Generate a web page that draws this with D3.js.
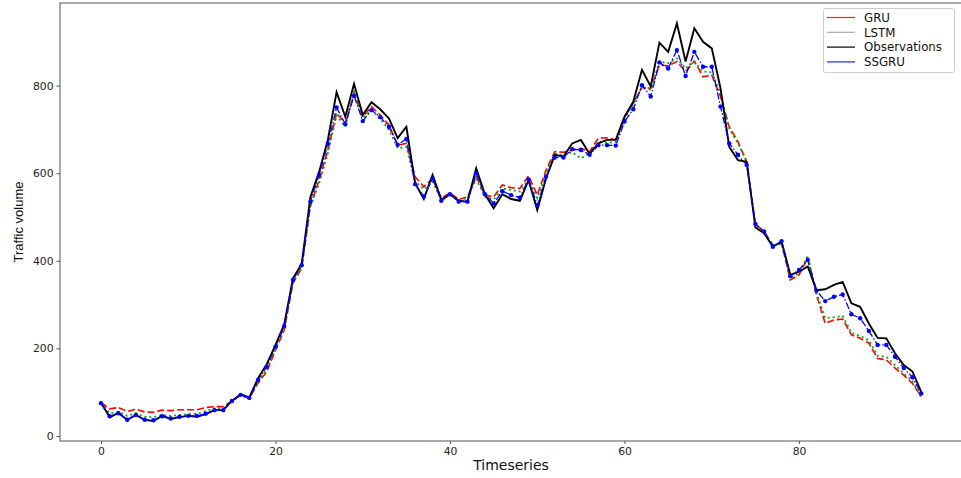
<!DOCTYPE html>
<html>
<head>
<meta charset="utf-8">
<script src="https://cdn.jsdelivr.net/npm/d3@7"></script>
<style>
  body { margin: 0; background: #fff; }
  svg { display: block; font-family: "DejaVu Sans", sans-serif; }
</style>
</head>
<body>
<svg id="chart" width="961" height="478"></svg>
<script>
const observations = [76, 43, 53, 37, 48, 37, 34, 46, 39, 43, 46, 44, 50, 59, 59, 80, 95, 88, 132, 164,
  208, 255, 360, 393, 546, 603, 676, 785, 729, 804, 733, 762, 746, 725, 680, 706, 577, 541, 596, 539,
  552, 537, 535, 611, 552, 520, 552, 541, 537, 584, 516, 588, 642, 638, 668, 676, 644, 668, 676, 676,
  729, 763, 836, 798, 898, 877, 942, 855, 931, 900, 885, 794, 660, 630, 626, 476, 463, 432, 444, 368,
  375, 387, 333, 335, 345, 352, 303, 295, 257, 224, 223, 189, 162, 147, 101];
const ssgru = [75, 45, 52, 37, 48, 37, 36, 45, 40, 44, 46, 46, 51, 59, 59, 80, 94, 87, 128, 158,
  204, 251, 356, 390, 535, 596, 667, 750, 712, 777, 719, 744, 728, 706, 665, 678, 575, 547, 588, 537,
  552, 535, 535, 600, 552, 531, 559, 550, 544, 586, 527, 592, 636, 636, 655, 653, 642, 664, 664, 663,
  718, 746, 801, 775, 853, 839, 881, 822, 877, 843, 843, 752, 668, 642, 619, 484, 467, 432, 445, 365,
  379, 402, 332, 308, 318, 323, 278, 269, 240, 208, 208, 181, 155, 134, 97];
const gru = [76, 62, 65, 56, 61, 55, 54, 59, 58, 60, 60, 60, 65, 67, 67, 80, 93, 86, 121, 147,
  196, 242, 349, 383, 527, 584, 653, 737, 714, 782, 729, 752, 733, 710, 664, 668, 592, 569, 588, 543,
  555, 540, 546, 592, 550, 546, 573, 567, 565, 594, 550, 607, 649, 648, 652, 657, 649, 680, 681, 676,
  729, 760, 796, 794, 847, 845, 855, 832, 856, 820, 824, 775, 706, 672, 625, 484, 467, 436, 440, 356,
  368, 406, 322, 257, 265, 267, 231, 223, 212, 177, 174, 155, 139, 120, 90];
const lstm = [75, 52, 55, 46, 52, 44, 43, 48, 46, 48, 50, 51, 57, 63, 63, 80, 92, 86, 124, 152,
  199, 246, 352, 385, 524, 577, 645, 733, 706, 786, 726, 744, 724, 699, 657, 660, 581, 563, 581, 540,
  550, 538, 543, 587, 546, 540, 565, 562, 558, 586, 543, 600, 645, 641, 648, 634, 645, 672, 669, 671,
  725, 757, 798, 790, 855, 851, 862, 839, 855, 832, 830, 782, 702, 668, 628, 482, 463, 436, 438, 360,
  372, 411, 327, 269, 271, 274, 236, 228, 219, 183, 181, 162, 143, 125, 88];

const yTicks = [0, 200, 400, 600, 800];
const xTicks = [0, 20, 40, 60, 80];
const legendNames = ["GRU", "LSTM", "Observations", "SSGRU"];
const legendColors = ["#ff2020", "#a8a8a8", "#000000", "#2020ff"];

const svg = d3.select("#chart");
const plotLeft = 60, plotTop = 3, plotRight = 963, plotBottom = 441;

const x = d3.scaleLinear().domain([0, 94]).range([101, 921.2]);
const y = d3.scaleLinear().domain([0, 800]).range([436, 85.6]);

svg.append("clipPath").attr("id", "plotclip")
  .append("rect").attr("x", plotLeft).attr("y", plotTop)
  .attr("width", plotRight - plotLeft).attr("height", plotBottom - plotTop);

const line = d3.line().x((d, i) => x(i)).y(d => y(d));
const plot = svg.append("g").attr("clip-path", "url(#plotclip)");

// GRU
plot.append("path").datum(gru).attr("d", line)
  .attr("fill", "none").attr("stroke", "#ff0000").attr("stroke-width", 1.6)
  .attr("stroke-dasharray", "7,3");

// LSTM
plot.append("path").datum(lstm).attr("d", line)
  .attr("fill", "none").attr("stroke", "#14a014").attr("stroke-width", 1.8)
  .attr("stroke-dasharray", "2,3");

// Observations
plot.append("path").datum(observations).attr("d", line)
  .attr("fill", "none").attr("stroke", "#000000").attr("stroke-width", 1.9);

// SSGRU
plot.append("path").datum(ssgru).attr("d", line)
  .attr("fill", "none").attr("stroke", "#0000ff").attr("stroke-width", 1.3)
  .attr("stroke-dasharray", "7,2,1.5,2");
plot.selectAll(".dot").data(ssgru).enter().append("circle")
  .attr("class", "dot")
  .attr("cx", (d, i) => x(i)).attr("cy", d => y(d)).attr("r", 2.2)
  .attr("fill", "#0000ff");

// frame
svg.append("rect").attr("x", plotLeft).attr("y", plotTop)
  .attr("width", plotRight - plotLeft).attr("height", plotBottom - plotTop)
  .attr("fill", "none").attr("stroke", "#555").attr("stroke-width", 1);

// axes
const yAxis = svg.append("g").attr("transform", "translate(" + plotLeft + ",0)")
  .call(d3.axisLeft(y).tickValues(yTicks).tickSize(3.5).tickPadding(3));
const xAxis = svg.append("g").attr("transform", "translate(0," + plotBottom + ")")
  .call(d3.axisBottom(x).tickValues(xTicks).tickSize(3).tickPadding(3));
[yAxis, xAxis].forEach(function (a) {
  a.select(".domain").remove();
  a.selectAll("line").attr("stroke", "#555");
  a.selectAll("text").attr("fill", "#222").style("font-size", "10.8px")
    .style("font-family", "DejaVu Sans, sans-serif");
});

svg.append("text").attr("x", 511).attr("y", 470).attr("text-anchor", "middle")
  .style("font-size", "14px").attr("fill", "#111").text("Timeseries");
svg.append("text").attr("transform", "translate(23,222) rotate(-90)").attr("text-anchor", "middle")
  .style("font-size", "13px").style("font-family", "Liberation Sans, Arial, sans-serif")
  .attr("fill", "#111").text("Traffic volume");

// legend
const legend = svg.append("g");
legend.append("rect").attr("x", 823.5).attr("y", 8.5).attr("width", 131).attr("height", 64)
  .attr("rx", 2).attr("fill", "#fff").attr("fill-opacity", 0.8).attr("stroke", "#ccc");
legendNames.forEach(function (name, i) {
  const ly = 17.5 + i * 14.8;
  legend.append("line").attr("x1", 827).attr("x2", 855).attr("y1", ly).attr("y2", ly)
    .attr("stroke", legendColors[i]).attr("stroke-width", 1.2);
  legend.append("text").attr("x", 864).attr("y", ly + 4.2)
    .style("font-size", "11.8px").attr("fill", "#111").text(name);
});
</script>
</body>
</html>
